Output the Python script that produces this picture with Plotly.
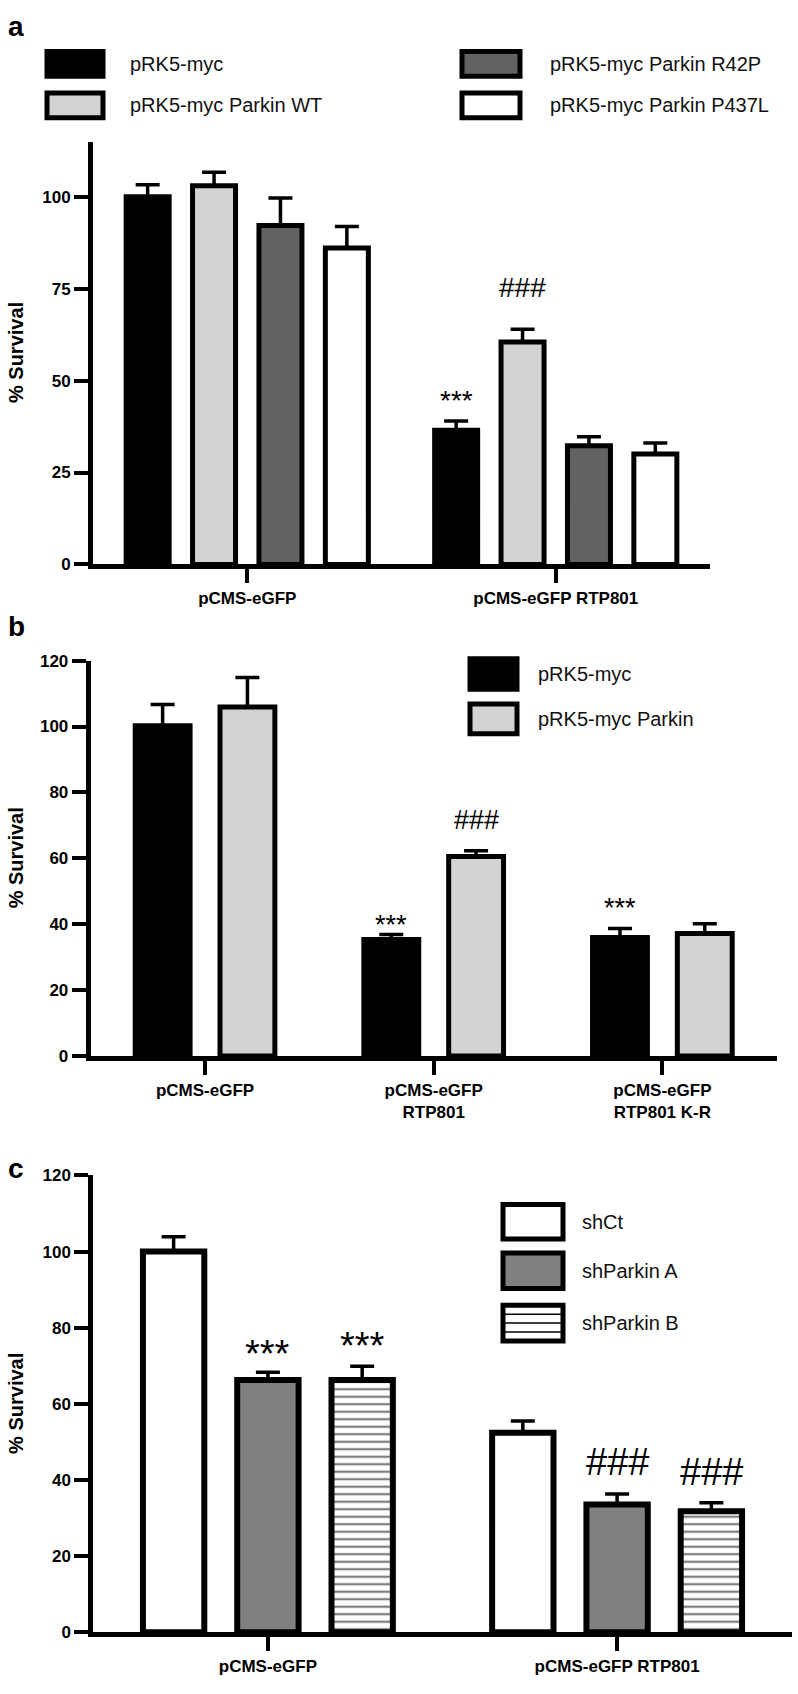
import plotly.graph_objects as go

W, H = 798, 1694

# ---------------- data ----------------
# panel a
a_cats = ["pCMS-eGFP", "pCMS-eGFP RTP801"]
a_names = ["pRK5-myc", "pRK5-myc Parkin WT", "pRK5-myc Parkin R42P", "pRK5-myc Parkin P437L"]
a_vals = [[100, 36.5], [103, 60.5], [92.2, 32.3], [86.1, 30.0]]
a_err = [[3.3, 2.5], [3.7, 3.5], [7.5, 2.4], [5.8, 3.0]]
a_sig_text = ["***", "###"]
a_sig_series = [0, 1]
a_sig_cat = [1, 1]
a_sig_y = [46.2, 75.3]

# panel b
b_cats = ["pCMS-eGFP", "pCMS-eGFP<br>RTP801", "pCMS-eGFP<br>RTP801 K-R"]
b_names = ["pRK5-myc", "pRK5-myc Parkin"]
b_vals = [[100.2, 35.4, 36.0], [105.9, 60.6, 37.2]]
b_err = [[6.5, 1.5, 2.7], [9.0, 1.7, 3.0]]
b_sig_text = ["***", "###", "***"]
b_sig_series = [0, 1, 0]
b_sig_cat = [1, 1, 2]
b_sig_y = [41.5, 71.5, 46.7]

# panel c
c_cats = ["pCMS-eGFP", "pCMS-eGFP RTP801"]
c_names = ["shCt", "shParkin A", "shParkin B"]
c_vals = [[100.0, 52.4], [66.3, 33.6], [66.3, 31.8]]
c_err = [[3.9, 3.1], [2.0, 2.7], [3.6, 2.2]]
c_sig_text = ["***", "***", "###", "###"]
c_sig_series = [1, 2, 1, 2]
c_sig_cat = [0, 0, 1, 1]
c_sig_y = [75.2, 77.5, 44.8, 42.1]

FONT = "Liberation Sans, Arial, sans-serif"

def px(x):
    return x / W

def py(y):
    return 1 - y / H

fig = go.Figure()
annotations = []
shapes = []

def panel(idx, cats, names, vals, errs, fills, patterns, slot, width, lw,
          xdom, ydom, yrange, ytickvals, sig_text, sig_series, sig_cat, sig_y, sig_size):
    xa = "x" if idx == 1 else "x%d" % idx
    ya = "y" if idx == 1 else "y%d" % idx
    n = len(names)
    for i, name in enumerate(names):
        center = (i - (n - 1) / 2) * slot
        fig.add_trace(go.Bar(
            x=cats, y=vals[i], name=name, xaxis=xa, yaxis=ya,
            width=width, offset=center - width / 2,
            marker=dict(color=fills[i], line=dict(color="black", width=lw),
                        pattern=patterns[i]),
            error_y=dict(type="data", array=errs[i], arrayminus=[0] * len(cats),
                         symmetric=False, color="black", thickness=3.5, width=12),
            showlegend=False,
        ))
    for t, s, c, yv in zip(sig_text, sig_series, sig_cat, sig_y):
        center = (s - (n - 1) / 2) * slot
        annotations.append(dict(
            x=c + center, y=yv, xref=xa, yref=ya, text=t, showarrow=False,
            xanchor="center", yanchor="middle",
            font=dict(family=FONT, size=sig_size, color="black"),
            yshift=-0.22 * sig_size if t.startswith("*") else 0,
        ))
    axkey = "xaxis" if idx == 1 else "xaxis%d" % idx
    aykey = "yaxis" if idx == 1 else "yaxis%d" % idx
    fig.update_layout(**{
        axkey: dict(domain=xdom, anchor=ya, type="category", categoryorder="array",
                    categoryarray=cats, range=[-0.5, len(cats) - 0.5],
                    showline=True, linecolor="black", linewidth=5,
                    ticks="outside", ticklen=14, tickwidth=4, tickcolor="black",
                    tickfont=dict(family=FONT, size=17, color="black", weight="bold"),
                    showgrid=False, zeroline=False, fixedrange=True),
        aykey: dict(domain=ydom, anchor=xa, range=yrange, tickvals=ytickvals,
                    showline=True, linecolor="black", linewidth=5,
                    ticks="outside", ticklen=14, tickwidth=4, tickcolor="black",
                    tickfont=dict(family=FONT, size=17, color="black", weight="bold"),
                    showgrid=False, zeroline=False, fixedrange=True),
    })
    # y title
    annotations.append(dict(
        x=px(16), y=(ydom[0] + ydom[1]) / 2, xref="paper", yref="paper",
        xanchor="center", yanchor="middle",
        text="% Survival", textangle=-90, showarrow=False,
        font=dict(family=FONT, size=20, color="black", weight="bold"),
    ))

hatch = dict(shape="-", fgcolor="black", bgcolor="white", size=7.5, solidity=0.3)

panel(1, a_cats, a_names, a_vals, a_err,
      ["#000000", "#d3d3d3", "#626262", "#ffffff"], [None, None, None, None],
      66.4 / 308.5, 43 / 308.5, 5,
      [px(93), px(710)], [py(561.7), py(134.2)], [0, 115], [0, 25, 50, 75, 100],
      a_sig_text, a_sig_series, a_sig_cat, a_sig_y, 28)

panel(2, b_cats, b_names, b_vals, b_err,
      ["#000000", "#d3d3d3"], [None, None],
      85 / 229.2, 55 / 229.2, 5,
      [px(90.7), px(776.7)], [py(1059), py(659)], [0, 120], [0, 20, 40, 60, 80, 100, 120],
      b_sig_text, b_sig_series, b_sig_cat, b_sig_y, 27)

panel(3, c_cats, c_names, c_vals, c_err,
      ["#ffffff", "#808080", "#ffffff"], [None, None, hatch],
      94.5 / 350, 61.5 / 350, 6,
      [px(93.3), px(791.7)], [py(1641.7), py(1179.7)], [0, 120], [0, 20, 40, 60, 80, 100, 120],
      c_sig_text, c_sig_series, c_sig_cat, c_sig_y, 38)

# panel letters
for letter, yy in zip(["a", "b", "c"], [18, 624, 1173]):
    annotations.append(dict(x=px(6), y=py(yy), xref="paper", yref="paper", text=letter,
                            showarrow=False, xanchor="left", yanchor="middle",
                            font=dict(family=FONT, size=28, color="black", weight="bold")))

# legends (drawn as shapes + text)
def legend_item(x0, y0, x1, y1, fill, label, tx, fsize, lw=5, stripes=0):
    shapes.append(dict(type="rect", xref="paper", yref="paper",
                       x0=px(x0), x1=px(x1), y0=py(y1), y1=py(y0),
                       fillcolor=fill, line=dict(color="black", width=lw)))
    for k in range(stripes):
        yy = y0 + (y1 - y0) * (k + 1) / (stripes + 1)
        shapes.append(dict(type="line", xref="paper", yref="paper",
                           x0=px(x0), x1=px(x1), y0=py(yy), y1=py(yy),
                           line=dict(color="black", width=1.5)))
    annotations.append(dict(x=px(tx), y=py((y0 + y1) / 2), xref="paper", yref="paper",
                            text=label, showarrow=False, xanchor="left", yanchor="middle",
                            font=dict(family=FONT, size=fsize, color="#111111")))

a_fill = ["#000000", "#d3d3d3", "#626262", "#ffffff"]
a_pos = [(47, 43, 103, 68, 128), (47, 85, 103, 110, 128),
         (462, 43, 520, 68, 548), (462, 85, 520, 110, 548)]
for (x0, y0, x1, y1, tx), f, name in zip(a_pos, a_fill, a_names):
    legend_item(x0, y0, x1, y1, f, name, tx, 20)

b_fill = ["#000000", "#d3d3d3"]
b_pos = [(470, 657, 517, 688, 536), (470, 703, 517, 733, 536)]
for (x0, y0, x1, y1, tx), f, name in zip(b_pos, b_fill, b_names):
    legend_item(x0, y0, x1, y1, f, name, tx, 20)

c_fill = ["#ffffff", "#808080", "#ffffff"]
c_pos = [(503, 1209, 563, 1244, 580), (503, 1258, 563, 1294, 580), (503, 1311, 563, 1347, 580)]
for (x0, y0, x1, y1, tx), f, name, st in zip(c_pos, c_fill, c_names, [0, 0, 3]):
    legend_item(x0, y0, x1, y1, f, name, tx, 20, stripes=st)

fig.update_layout(
    width=W, height=H,
    margin=dict(l=0, r=0, t=0, b=0),
    paper_bgcolor="white", plot_bgcolor="white",
    barmode="overlay",
    showlegend=False,
    annotations=annotations,
    shapes=shapes,
    font=dict(family=FONT, color="black"),
)

fig.write_html("out.html", config={"displayModeBar": False},
               post_script="document.body.style.margin='0';document.body.style.overflow='hidden';")
